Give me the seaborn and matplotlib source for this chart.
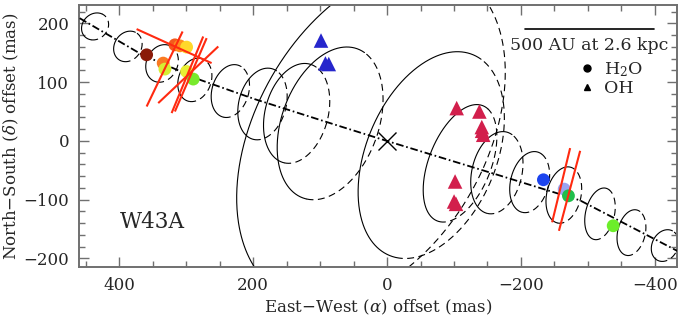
import numpy as np
import pandas as pd
import matplotlib
matplotlib.use("Agg")
import matplotlib.pyplot as plt
import seaborn as sns
from matplotlib.lines import Line2D

# ---------------- data (mas) ----------------
# jet axis (dash-dot curve)
jet_x = [459, 366, 279, 197, 70, 0, -169, -288, -435]
jet_y = [209, 147, 104, 71, 25, 0, -59, -101, -188]

# projected model rings: centre, half-width w (RA), half-height h (Dec), lean d of the top (mas)
ring_x = [436, 387, 336, 287, 234, 186, 135, 85, 24, -66, -109, -164, -213, -264, -318, -365, -415]
ring_y = [195, 161, 132, 104, 85, 63, 47, 30, 10, -24, -38, -54, -70, -92, -124, -156, -178]
ring_w = [20, 21, 24, 25, 28, 36, 48, 75, 186, 102, 49, 38, 29, 26, 22, 21, 20]
ring_h = [23, 26, 32, 37, 45, 61, 85, 130, 286, 176, 100, 70, 52, 48, 44, 39, 27]
ring_d = [3, 3.5, 4, 5, 6, 8, 12, 25, 75, 39, 25, 9, 7, 6, 6, 5, 4]

# H2O maser spots
h2o_x = [359, 316.8, 309.3, 299.3, 334.3, 331.7, 299.3, 289.4, -233.5, -264.5, -270.9, -337.7]
h2o_y = [146.7, 163.7, 162.0, 159.8, 132.6, 122.4, 118.3, 105.4, -66.0, -81.9, -93.3, -144.3]
h2o_col = ["#8a1a08", "#f45a1c", "#ff8f1e", "#ffd82a", "#fa7a22", "#d6ee32", "#e8f034", "#78ea2c",
           "#1c44ee", "#9aa4f0", "#20bf4c", "#6cee2a"]

# OH maser spots
oh_x = [98.6, 92, 87, -104, -137.9, -141.5, -141.9, -143.6, -101.6, -100.1, -103]
oh_y = [171, 132, 131, 56, 50.2, 23.7, 17.4, 10.6, -68.9, -103, -107]
oh_col = ["#2626cc", "#2626cc", "#2626cc"] + ["#d21f4c"] * 8

# polarization vectors (end points)
vec_x0 = [374, 305.3, 274.5, 269.4, 252, -273.4, -288.4]
vec_y0 = [190.5, 186.4, 177.9, 175.1, 160.9, -12.1, -16.7]
vec_x1 = [262, 359, 321.7, 316.8, 341.7, -246.5, -256.7]
vec_y1 = [132.6, 58.7, 47.5, 50.2, 64.5, -138.4, -152.9]

scale_au = 500      # AU
dist_kpc = 2.6      # kpc
bar_x_end, bar_y = -398, 190

# ---------------- style ----------------
sns.set_style("ticks")
plt.rcParams["font.family"] = ["DejaVu Serif"]
plt.rcParams["mathtext.fontset"] = "dejavuserif"
plt.rcParams["lines.scale_dashes"] = False
axcol = "#707070"

fig = plt.figure(figsize=(6.78, 3.23), dpi=100)
ax = fig.add_axes([79 / 678, 1 - 267.3 / 323, 598 / 678, 262.6 / 323])
ax.set_xlim(460, -433)
ax.set_ylim(-215, 232)

# ---------------- rings ----------------
def ring(cx, cy, w, h, d, t0, t1):
    t = np.radians(np.linspace(t0, t1, 300))
    return cx - (w * np.cos(t) + d * np.sin(t)), cy + h * np.sin(t)

for cx, cy, w, h, d in zip(ring_x, ring_y, ring_w, ring_h, ring_d):
    xs, ys = ring(cx, cy, w, h, d, 68, 262)
    ax.plot(xs, ys, color="black", lw=0.8, zorder=2)
    xs, ys = ring(cx, cy, w, h, d, 262, 428)
    ax.plot(xs, ys, color="black", lw=0.8, linestyle=(0, (5, 3.2)), zorder=2)

# ---------------- jet axis ----------------
sns.lineplot(x=jet_x, y=jet_y, sort=False, estimator=None, ax=ax, color="black",
             lw=1.3, linestyle=(0, (5.5, 2, 1.2, 2)), zorder=3)
ax.plot([0], [0], marker="x", color="black", ms=13, mew=1.0, zorder=3)

# ---------------- masers ----------------
h2o = pd.DataFrame({"x": h2o_x, "y": h2o_y, "k": [str(i) for i in range(len(h2o_x))]})
sns.scatterplot(data=h2o, x="x", y="y", hue="k", palette=h2o_col, s=85, marker="o",
                linewidth=0, legend=False, ax=ax, zorder=4)
oh = pd.DataFrame({"x": oh_x, "y": oh_y, "k": [str(i) for i in range(len(oh_x))]})
sns.scatterplot(data=oh, x="x", y="y", hue="k", palette=oh_col, s=110, marker="^",
                linewidth=0, legend=False, ax=ax, zorder=4)

for x0, y0, x1, y1 in zip(vec_x0, vec_y0, vec_x1, vec_y1):
    ax.plot([x0, x1], [y0, y1], color="#ff2a10", lw=1.5, zorder=5, solid_capstyle="butt")

# ---------------- scale bar & labels ----------------
bar_len = scale_au / dist_kpc
ax.plot([bar_x_end + bar_len, bar_x_end], [bar_y, bar_y], color="black", lw=1.2)
ax.text(bar_x_end + bar_len / 2, bar_y - 13, f"{scale_au} AU at {dist_kpc} kpc",
        ha="center", va="top", fontsize=12.5)
ax.text(350, -138, "W43A", ha="center", va="center", fontsize=15.5)

handles = [Line2D([], [], ls="none", marker="o", color="black", ms=5),
           Line2D([], [], ls="none", marker="^", color="black", ms=5)]
ax.legend(handles, [r"H$_2$O", "OH"], loc="upper left", bbox_to_anchor=(0.838, 0.79),
          frameon=False, fontsize=12.5, handlelength=0.8, handletextpad=0.6,
          labelspacing=0.1, borderpad=0, borderaxespad=0)

ax.set_xlabel(r"East$-$West ($\alpha$) offset (mas)", fontsize=12, labelpad=3)
ax.set_ylabel(r"North$-$South ($\delta$) offset (mas)", fontsize=12, labelpad=2)

# ---------------- axes ----------------
ax.set_xticks([400, 200, 0, -200, -400])
ax.set_xticks(np.arange(-400, 451, 50), minor=True)
ax.set_yticks([-200, -100, 0, 100, 200])
ax.set_yticks(np.arange(-200, 231, 20), minor=True)
ax.tick_params(which="both", direction="in", top=True, right=True, color=axcol, labelsize=12)
ax.tick_params(which="major", length=7, width=1.0, pad=7)
ax.tick_params(which="minor", length=4, width=1.0)
for s in ax.spines.values():
    s.set_color(axcol)
    s.set_linewidth(1.4)

fig.savefig("out.png", dpi=100)
